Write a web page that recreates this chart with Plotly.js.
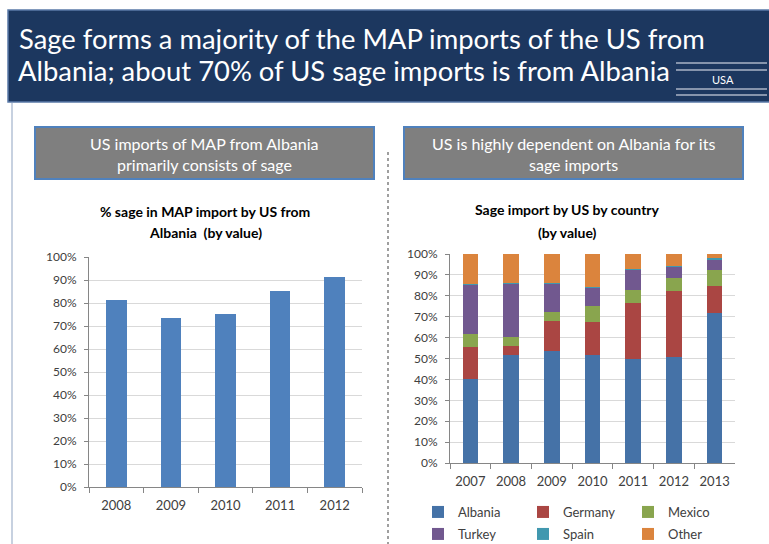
<!DOCTYPE html>
<html><head><meta charset="utf-8">
<script src="https://cdn.plot.ly/plotly-3.0.1.min.js"></script>
<style>html,body{margin:0;padding:0;background:#fff;} #chart{width:769px;height:544px;}</style>
</head><body><div id="chart"></div>
<script>
// ---- data ----
const leftYears = ['2008', '2009', '2010', '2011', '2012'];
const leftSageShare = [81.4, 73.5, 75.2, 85.4, 91.3];

const rightYears = ['2007', '2008', '2009', '2010', '2011', '2012', '2013'];
const albania = [40.1, 51.6, 53.7, 51.8, 49.8, 50.5, 72.0];
const germany = [15.2, 4.5, 14.1, 15.6, 26.6, 31.7, 12.6];
const mexico  = [6.2, 4.4, 4.5, 7.6, 6.4, 6.3, 7.9];
const turkey  = [23.7, 25.5, 13.7, 8.9, 9.7, 5.5, 4.6];
const spain   = [0.3, 0.2, 0.2, 0.1, 0.1, 0.2, 1.1];
const other   = [14.5, 13.8, 13.8, 16.0, 7.4, 5.8, 1.8];
const seriesNames = ['Albania', 'Germany', 'Mexico', 'Turkey', 'Spain', 'Other'];
const seriesValues = [albania, germany, mexico, turkey, spain, other];
const yTicks = [0, 10, 20, 30, 40, 50, 60, 70, 80, 90, 100];
const yTickText = yTicks.map(v => v + '%');

// ---- style ----
const W = 769, H = 544;
const FONT = 'Lato, "Open Sans", sans-serif';
const seriesColors = ['#4572a7', '#aa4643', '#89a54e', '#71588f', '#4198af', '#db843d'];
const px = x => x / W;
const py = y => 1 - y / H;

const traces = [];
traces.push({
  type: 'bar', x: leftYears, y: leftSageShare, xaxis: 'x', yaxis: 'y',
  marker: {color: '#4f81bd'}, showlegend: false, name: '% sage',
  hovertemplate: '%{x}: %{y}%<extra></extra>'
});
seriesNames.forEach((n, i) => {
  traces.push({
    type: 'bar', x: rightYears, y: seriesValues[i], name: n, xaxis: 'x2', yaxis: 'y2',
    marker: {color: seriesColors[i]},
    legend: i < 3 ? 'legend' : 'legend2',
    hovertemplate: n + ' %{x}: %{y}%<extra></extra>'
  });
});

const xCommon = {
  type: 'category', showline: true, linecolor: '#868686', linewidth: 1,
  ticks: 'outside', tickson: 'boundaries', ticklen: 5, tickcolor: '#868686', tickangle: 0,
  ticklabelstandoff: 6, automargin: false,
  tickfont: {family: FONT, size: 13, color: '#404040'}, showgrid: false, zeroline: false, fixedrange: true
};
const yCommon = {
  range: [0, 100], tickmode: 'array', tickvals: yTicks, ticktext: yTickText, showgrid: true, gridcolor: '#d9d9d9',
  showline: true, linecolor: '#868686', ticks: 'outside', ticklen: 4, tickcolor: '#868686',
  ticklabelstandoff: 5, automargin: false,
  tickfont: {family: FONT, size: 12, color: '#404040'}, zeroline: false, fixedrange: true
};

const legendCommon = {
  orientation: 'h', xanchor: 'left', yanchor: 'middle', entrywidth: 60, entrywidthmode: 'pixels',
  traceorder: 'normal', xref: 'container', yref: 'container',
  font: {family: FONT, size: 13, color: '#404040'}, bgcolor: 'rgba(0,0,0,0)', itemwidth: 30,
  itemclick: false, itemdoubleclick: false
};

const shapes = [
  // header band
  {type: 'rect', xref: 'paper', yref: 'paper', x0: px(8), x1: px(775), y0: py(102), y1: py(10),
   fillcolor: '#1c375f', line: {color: '#5a7aa8', width: 1.5}, layer: 'below'},
  // slide frame line
  {type: 'line', xref: 'paper', yref: 'paper', x0: px(12), x1: px(12), y0: py(103), y1: py(544),
   line: {color: '#b4c2d6', width: 1.5}},
  // USA flag lines
  {type: 'line', xref: 'paper', yref: 'paper', x0: px(676), x1: px(767), y0: py(63), y1: py(63), line: {color: '#aab4c6', width: 1.5}},
  {type: 'line', xref: 'paper', yref: 'paper', x0: px(676), x1: px(767), y0: py(70), y1: py(70), line: {color: '#aab4c6', width: 1.5}},
  {type: 'line', xref: 'paper', yref: 'paper', x0: px(676), x1: px(767), y0: py(89), y1: py(89), line: {color: '#aab4c6', width: 1.5}},
  {type: 'line', xref: 'paper', yref: 'paper', x0: px(676), x1: px(767), y0: py(95), y1: py(95), line: {color: '#aab4c6', width: 1.5}},
  // subtitle boxes
  {type: 'rect', xref: 'paper', yref: 'paper', x0: px(35), x1: px(374), y0: py(179), y1: py(127),
   fillcolor: '#7f7f7f', line: {color: '#4f81bd', width: 2}},
  {type: 'rect', xref: 'paper', yref: 'paper', x0: px(404), x1: px(743), y0: py(179), y1: py(127),
   fillcolor: '#7f7f7f', line: {color: '#4f81bd', width: 2}},
  // divider
  {type: 'line', xref: 'paper', yref: 'paper', x0: px(388), x1: px(388), y0: py(152), y1: py(544),
   line: {color: '#808080', width: 1.5, dash: 'dot'}}
];

const ann = (x, y, text, size, color, bold, xanchor) => ({
  xref: 'paper', yref: 'paper', x: px(x), y: py(y), text: bold ? '<b>' + text + '</b>' : text,
  showarrow: false, xanchor: xanchor || 'center', yanchor: 'middle',
  font: {family: FONT, size: size, color: color}
});

const annotations = [
  ann(16, 71, 'Albania; about 70% of US sage imports is from Albania', 27.4, '#ffffff', false, 'left'),
  ann(723, 79, 'USA', 11, '#ffffff', false),
  ann(204.5, 143, 'US imports of MAP from Albania', 16, '#ffffff', false),
  ann(204.5, 165, 'primarily consists of sage', 16, '#ffffff', false),
  ann(573.5, 143, 'US is highly dependent on Albania for its', 16, '#ffffff', false),
  ann(573.5, 165, 'sage imports', 16, '#ffffff', false),
  ann(205, 211, '% sage in MAP import by US from', 14, '#000000', true),
  ann(205, 233, 'Albania  (by value)', 14, '#000000', true),
  ann(567, 210, 'Sage import by US by country', 14, '#000000', true),
  ann(567, 233, '(by value)', 14, '#000000', true)
];

const layout = {
  width: W, height: H, margin: {l: 0, r: 0, t: 0, b: 0, pad: 0, autoexpand: false},
  paper_bgcolor: '#ffffff', plot_bgcolor: '#ffffff',
  font: {family: FONT},
  title: {
    text: 'Sage forms a majority of the MAP imports of the US from',
    xref: 'container', yref: 'container', x: 19 / W, xanchor: 'left', y: 1 - 39 / H, yanchor: 'middle',
    font: {family: FONT, size: 27.4, color: '#ffffff'}
  },
  barmode: 'stack', bargap: 0.62,
  xaxis: Object.assign({}, xCommon, {domain: [px(89), px(362)], anchor: 'y'}),
  yaxis: Object.assign({}, yCommon, {domain: [py(487), py(257)], anchor: 'x'}),
  xaxis2: Object.assign({}, xCommon, {domain: [px(450), px(735)], anchor: 'y2'}),
  yaxis2: Object.assign({}, yCommon, {domain: [py(463), py(254)], anchor: 'x2'}),
  showlegend: true,
  legend: Object.assign({}, legendCommon, {x: px(418), y: py(512)}),
  legend2: Object.assign({}, legendCommon, {x: px(418), y: py(534)}),
  shapes: shapes,
  annotations: annotations
};

Plotly.newPlot('chart', traces, layout, {displayModeBar: false});
</script>
</body></html>
